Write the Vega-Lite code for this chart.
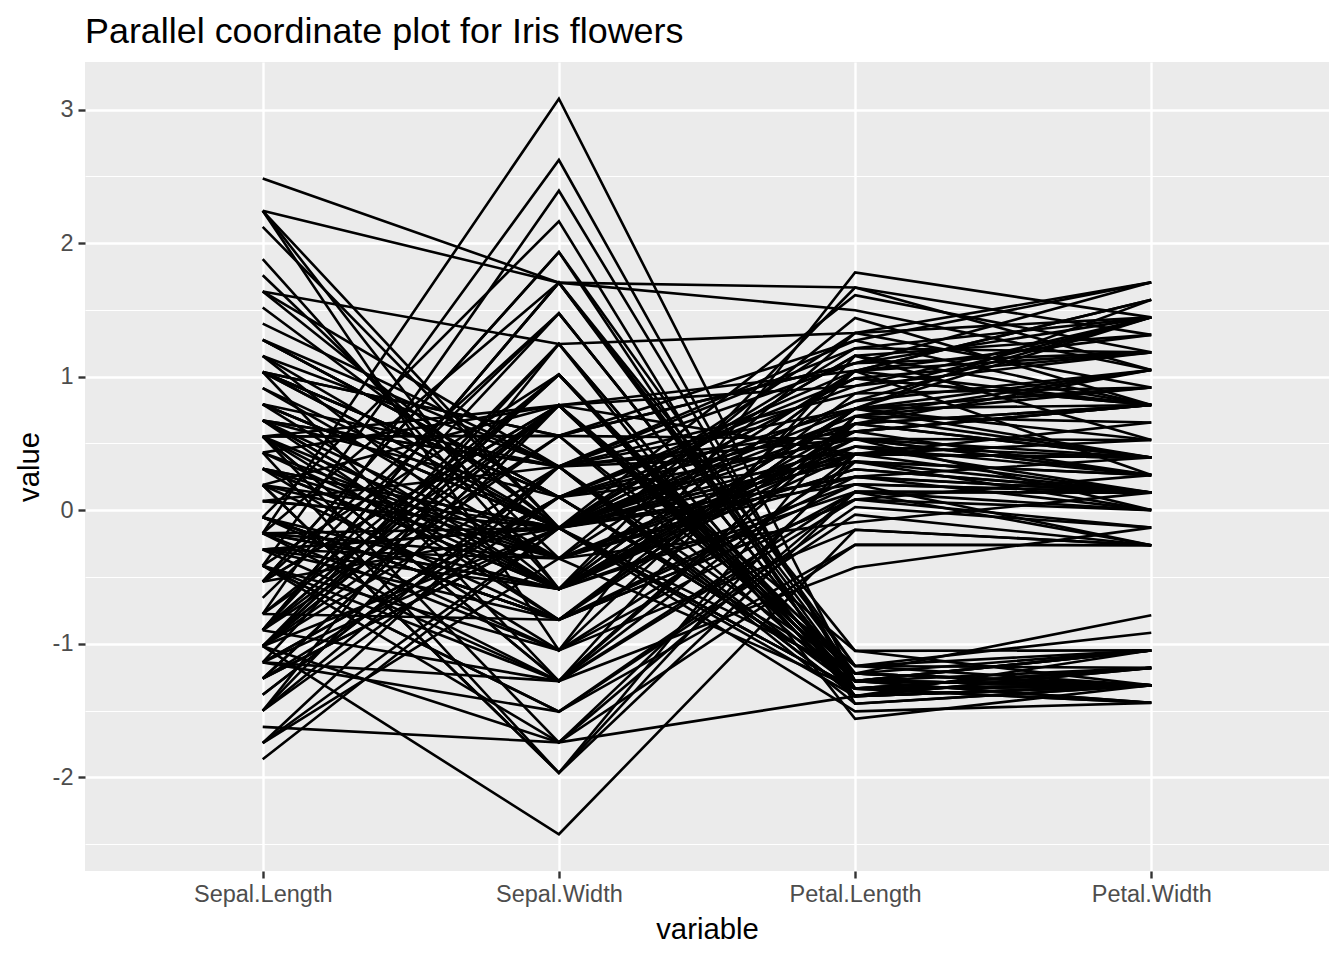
{
"$schema": "https://vega.github.io/schema/vega-lite/v6.json",
"autosize": "none",
"padding": {"left": 85, "top": 62, "right": 15, "bottom": 89},
"width": 1244,
"height": 809,
"background": "white",
"title": {"text": "Parallel coordinate plot for Iris flowers", "anchor": "start", "frame": "group", "fontSize": 35.9, "font": "Liberation Sans", "fontWeight": "normal", "color": "black", "baseline": "alphabetic", "offset": 20, "dy": 37},
"config": {"font": "Liberation Sans", "view": {"fill": "#EBEBEB", "stroke": null}},
"data": {"values": [
{"id":1,"SL":-0.898,"SW":1.016,"PL":-1.336,"PW":-1.311},
{"id":2,"SL":-1.139,"SW":-0.132,"PL":-1.336,"PW":-1.311},
{"id":3,"SL":-1.381,"SW":0.327,"PL":-1.392,"PW":-1.311},
{"id":4,"SL":-1.501,"SW":0.098,"PL":-1.279,"PW":-1.311},
{"id":5,"SL":-1.018,"SW":1.245,"PL":-1.336,"PW":-1.311},
{"id":6,"SL":-0.535,"SW":1.933,"PL":-1.166,"PW":-1.049},
{"id":7,"SL":-1.501,"SW":0.786,"PL":-1.336,"PW":-1.180},
{"id":8,"SL":-1.018,"SW":0.786,"PL":-1.279,"PW":-1.311},
{"id":9,"SL":-1.743,"SW":-0.361,"PL":-1.336,"PW":-1.311},
{"id":10,"SL":-1.139,"SW":0.098,"PL":-1.279,"PW":-1.442},
{"id":11,"SL":-0.535,"SW":1.474,"PL":-1.279,"PW":-1.311},
{"id":12,"SL":-1.260,"SW":0.786,"PL":-1.222,"PW":-1.311},
{"id":13,"SL":-1.260,"SW":-0.132,"PL":-1.336,"PW":-1.442},
{"id":14,"SL":-1.864,"SW":-0.132,"PL":-1.506,"PW":-1.442},
{"id":15,"SL":-0.052,"SW":2.163,"PL":-1.449,"PW":-1.311},
{"id":16,"SL":-0.173,"SW":3.081,"PL":-1.279,"PW":-1.049},
{"id":17,"SL":-0.535,"SW":1.933,"PL":-1.392,"PW":-1.049},
{"id":18,"SL":-0.898,"SW":1.016,"PL":-1.336,"PW":-1.180},
{"id":19,"SL":-0.173,"SW":1.704,"PL":-1.166,"PW":-1.180},
{"id":20,"SL":-0.898,"SW":1.704,"PL":-1.279,"PW":-1.180},
{"id":21,"SL":-0.535,"SW":0.786,"PL":-1.166,"PW":-1.311},
{"id":22,"SL":-0.898,"SW":1.474,"PL":-1.279,"PW":-1.049},
{"id":23,"SL":-1.501,"SW":1.245,"PL":-1.562,"PW":-1.311},
{"id":24,"SL":-0.898,"SW":0.557,"PL":-1.166,"PW":-0.917},
{"id":25,"SL":-1.260,"SW":0.786,"PL":-1.053,"PW":-1.311},
{"id":26,"SL":-1.018,"SW":-0.132,"PL":-1.222,"PW":-1.311},
{"id":27,"SL":-1.018,"SW":0.786,"PL":-1.222,"PW":-1.049},
{"id":28,"SL":-0.777,"SW":1.016,"PL":-1.279,"PW":-1.311},
{"id":29,"SL":-0.777,"SW":0.786,"PL":-1.336,"PW":-1.311},
{"id":30,"SL":-1.381,"SW":0.327,"PL":-1.222,"PW":-1.311},
{"id":31,"SL":-1.260,"SW":0.098,"PL":-1.222,"PW":-1.311},
{"id":32,"SL":-0.535,"SW":0.786,"PL":-1.279,"PW":-1.049},
{"id":33,"SL":-0.777,"SW":2.392,"PL":-1.279,"PW":-1.442},
{"id":34,"SL":-0.415,"SW":2.622,"PL":-1.336,"PW":-1.311},
{"id":35,"SL":-1.139,"SW":0.098,"PL":-1.279,"PW":-1.311},
{"id":36,"SL":-1.018,"SW":0.327,"PL":-1.449,"PW":-1.311},
{"id":37,"SL":-0.415,"SW":1.016,"PL":-1.392,"PW":-1.311},
{"id":38,"SL":-1.139,"SW":1.245,"PL":-1.336,"PW":-1.442},
{"id":39,"SL":-1.743,"SW":-0.132,"PL":-1.392,"PW":-1.311},
{"id":40,"SL":-0.898,"SW":0.786,"PL":-1.279,"PW":-1.311},
{"id":41,"SL":-1.018,"SW":1.016,"PL":-1.392,"PW":-1.180},
{"id":42,"SL":-1.622,"SW":-1.738,"PL":-1.392,"PW":-1.180},
{"id":43,"SL":-1.743,"SW":0.327,"PL":-1.392,"PW":-1.311},
{"id":44,"SL":-1.018,"SW":1.016,"PL":-1.222,"PW":-0.786},
{"id":45,"SL":-0.898,"SW":1.704,"PL":-1.053,"PW":-1.049},
{"id":46,"SL":-1.260,"SW":-0.132,"PL":-1.336,"PW":-1.180},
{"id":47,"SL":-0.898,"SW":1.704,"PL":-1.222,"PW":-1.311},
{"id":48,"SL":-1.501,"SW":0.327,"PL":-1.336,"PW":-1.311},
{"id":49,"SL":-0.656,"SW":1.474,"PL":-1.279,"PW":-1.311},
{"id":50,"SL":-1.018,"SW":0.557,"PL":-1.336,"PW":-1.311},
{"id":51,"SL":1.397,"SW":0.327,"PL":0.534,"PW":0.263},
{"id":52,"SL":0.672,"SW":0.327,"PL":0.420,"PW":0.395},
{"id":53,"SL":1.276,"SW":0.098,"PL":0.647,"PW":0.395},
{"id":54,"SL":-0.415,"SW":-1.738,"PL":0.137,"PW":0.132},
{"id":55,"SL":0.793,"SW":-0.590,"PL":0.477,"PW":0.395},
{"id":56,"SL":-0.173,"SW":-0.590,"PL":0.420,"PW":0.132},
{"id":57,"SL":0.552,"SW":0.557,"PL":0.534,"PW":0.526},
{"id":58,"SL":-1.139,"SW":-1.508,"PL":-0.259,"PW":-0.262},
{"id":59,"SL":0.914,"SW":-0.361,"PL":0.477,"PW":0.132},
{"id":60,"SL":-0.777,"SW":-0.820,"PL":0.080,"PW":0.263},
{"id":61,"SL":-1.018,"SW":-2.426,"PL":-0.146,"PW":-0.262},
{"id":62,"SL":0.068,"SW":-0.132,"PL":0.250,"PW":0.395},
{"id":63,"SL":0.189,"SW":-1.967,"PL":0.137,"PW":-0.262},
{"id":64,"SL":0.310,"SW":-0.361,"PL":0.534,"PW":0.263},
{"id":65,"SL":-0.294,"SW":-0.361,"PL":-0.090,"PW":0.132},
{"id":66,"SL":1.035,"SW":0.098,"PL":0.364,"PW":0.263},
{"id":67,"SL":-0.294,"SW":-0.132,"PL":0.420,"PW":0.395},
{"id":68,"SL":-0.052,"SW":-0.820,"PL":0.194,"PW":-0.262},
{"id":69,"SL":0.431,"SW":-1.967,"PL":0.420,"PW":0.395},
{"id":70,"SL":-0.294,"SW":-1.279,"PL":0.080,"PW":-0.130},
{"id":71,"SL":0.068,"SW":0.327,"PL":0.590,"PW":0.788},
{"id":72,"SL":0.310,"SW":-0.590,"PL":0.137,"PW":0.132},
{"id":73,"SL":0.552,"SW":-1.279,"PL":0.647,"PW":0.395},
{"id":74,"SL":0.310,"SW":-0.590,"PL":0.534,"PW":0.001},
{"id":75,"SL":0.672,"SW":-0.361,"PL":0.307,"PW":0.132},
{"id":76,"SL":0.914,"SW":-0.132,"PL":0.364,"PW":0.263},
{"id":77,"SL":1.155,"SW":-0.590,"PL":0.590,"PW":0.263},
{"id":78,"SL":1.035,"SW":-0.132,"PL":0.704,"PW":0.657},
{"id":79,"SL":0.189,"SW":-0.361,"PL":0.420,"PW":0.395},
{"id":80,"SL":-0.173,"SW":-1.049,"PL":-0.146,"PW":-0.262},
{"id":81,"SL":-0.415,"SW":-1.508,"PL":0.024,"PW":-0.130},
{"id":82,"SL":-0.415,"SW":-1.508,"PL":-0.033,"PW":-0.262},
{"id":83,"SL":-0.052,"SW":-0.820,"PL":0.080,"PW":0.001},
{"id":84,"SL":0.189,"SW":-0.820,"PL":0.760,"PW":0.526},
{"id":85,"SL":-0.535,"SW":-0.132,"PL":0.420,"PW":0.395},
{"id":86,"SL":0.189,"SW":0.786,"PL":0.420,"PW":0.526},
{"id":87,"SL":1.035,"SW":0.098,"PL":0.534,"PW":0.395},
{"id":88,"SL":0.552,"SW":-1.738,"PL":0.364,"PW":0.132},
{"id":89,"SL":-0.294,"SW":-0.132,"PL":0.194,"PW":0.132},
{"id":90,"SL":-0.415,"SW":-1.279,"PL":0.137,"PW":0.132},
{"id":91,"SL":-0.415,"SW":-1.049,"PL":0.364,"PW":0.001},
{"id":92,"SL":0.310,"SW":-0.132,"PL":0.477,"PW":0.263},
{"id":93,"SL":-0.052,"SW":-1.049,"PL":0.137,"PW":0.001},
{"id":94,"SL":-1.018,"SW":-1.738,"PL":-0.259,"PW":-0.262},
{"id":95,"SL":-0.294,"SW":-0.820,"PL":0.250,"PW":0.132},
{"id":96,"SL":-0.173,"SW":-0.132,"PL":0.250,"PW":0.001},
{"id":97,"SL":-0.173,"SW":-0.361,"PL":0.250,"PW":0.132},
{"id":98,"SL":0.431,"SW":-0.361,"PL":0.307,"PW":0.132},
{"id":99,"SL":-0.898,"SW":-1.279,"PL":-0.429,"PW":-0.130},
{"id":100,"SL":-0.173,"SW":-0.590,"PL":0.194,"PW":0.132},
{"id":101,"SL":0.552,"SW":0.557,"PL":1.270,"PW":1.706},
{"id":102,"SL":-0.052,"SW":-0.820,"PL":0.760,"PW":0.919},
{"id":103,"SL":1.518,"SW":-0.132,"PL":1.213,"PW":1.182},
{"id":104,"SL":0.552,"SW":-0.361,"PL":1.043,"PW":0.788},
{"id":105,"SL":0.793,"SW":-0.132,"PL":1.157,"PW":1.313},
{"id":106,"SL":2.121,"SW":-0.132,"PL":1.610,"PW":1.182},
{"id":107,"SL":-1.139,"SW":-1.279,"PL":0.420,"PW":0.657},
{"id":108,"SL":1.759,"SW":-0.361,"PL":1.440,"PW":0.788},
{"id":109,"SL":1.035,"SW":-1.279,"PL":1.157,"PW":0.788},
{"id":110,"SL":1.638,"SW":1.245,"PL":1.327,"PW":1.706},
{"id":111,"SL":0.793,"SW":0.327,"PL":0.760,"PW":1.050},
{"id":112,"SL":0.672,"SW":-0.820,"PL":0.874,"PW":0.919},
{"id":113,"SL":1.155,"SW":-0.132,"PL":0.987,"PW":1.182},
{"id":114,"SL":-0.173,"SW":-1.279,"PL":0.704,"PW":1.050},
{"id":115,"SL":-0.052,"SW":-0.590,"PL":0.760,"PW":1.575},
{"id":116,"SL":0.672,"SW":0.327,"PL":0.874,"PW":1.444},
{"id":117,"SL":0.793,"SW":-0.132,"PL":0.987,"PW":0.788},
{"id":118,"SL":2.242,"SW":1.704,"PL":1.667,"PW":1.313},
{"id":119,"SL":2.242,"SW":-1.049,"PL":1.780,"PW":1.444},
{"id":120,"SL":0.189,"SW":-1.967,"PL":0.704,"PW":0.395},
{"id":121,"SL":1.276,"SW":0.327,"PL":1.100,"PW":1.444},
{"id":122,"SL":-0.294,"SW":-0.590,"PL":0.647,"PW":1.050},
{"id":123,"SL":2.242,"SW":-0.590,"PL":1.667,"PW":1.050},
{"id":124,"SL":0.552,"SW":-0.820,"PL":0.647,"PW":0.788},
{"id":125,"SL":1.035,"SW":0.557,"PL":1.100,"PW":1.182},
{"id":126,"SL":1.638,"SW":0.327,"PL":1.270,"PW":0.788},
{"id":127,"SL":0.431,"SW":-0.590,"PL":0.590,"PW":0.788},
{"id":128,"SL":0.310,"SW":-0.132,"PL":0.647,"PW":0.788},
{"id":129,"SL":0.672,"SW":-0.590,"PL":1.043,"PW":1.182},
{"id":130,"SL":1.638,"SW":-0.132,"PL":1.157,"PW":0.526},
{"id":131,"SL":1.880,"SW":-0.590,"PL":1.327,"PW":0.919},
{"id":132,"SL":2.484,"SW":1.704,"PL":1.497,"PW":1.050},
{"id":133,"SL":0.672,"SW":-0.590,"PL":1.043,"PW":1.313},
{"id":134,"SL":0.552,"SW":-0.590,"PL":0.760,"PW":0.395},
{"id":135,"SL":0.310,"SW":-1.049,"PL":1.043,"PW":0.263},
{"id":136,"SL":2.242,"SW":-0.132,"PL":1.327,"PW":1.444},
{"id":137,"SL":0.552,"SW":0.786,"PL":1.043,"PW":1.575},
{"id":138,"SL":0.672,"SW":0.098,"PL":0.987,"PW":0.788},
{"id":139,"SL":0.189,"SW":-0.132,"PL":0.590,"PW":0.788},
{"id":140,"SL":1.276,"SW":0.098,"PL":0.930,"PW":1.182},
{"id":141,"SL":1.035,"SW":0.098,"PL":1.043,"PW":1.575},
{"id":142,"SL":1.276,"SW":0.098,"PL":0.760,"PW":1.444},
{"id":143,"SL":-0.052,"SW":-0.820,"PL":0.760,"PW":0.919},
{"id":144,"SL":1.155,"SW":0.327,"PL":1.213,"PW":1.444},
{"id":145,"SL":1.035,"SW":0.557,"PL":1.100,"PW":1.706},
{"id":146,"SL":1.035,"SW":-0.132,"PL":0.817,"PW":1.444},
{"id":147,"SL":0.552,"SW":-1.279,"PL":0.704,"PW":0.919},
{"id":148,"SL":0.793,"SW":-0.132,"PL":0.817,"PW":1.050},
{"id":149,"SL":0.431,"SW":0.786,"PL":0.930,"PW":1.444},
{"id":150,"SL":0.068,"SW":-0.132,"PL":0.760,"PW":0.788}
]},
"transform": [{"fold": ["SL", "SW", "PL", "PW"], "as": ["variable", "value"]}],
"mark": {"type": "line", "color": "black", "strokeWidth": 2.6},
"encoding": {
  "x": {"field": "variable", "type": "nominal", "sort": ["SL", "SW", "PL", "PW"],
        "scale": {"type": "point", "padding": 0.6},
        "axis": {"title": "variable", "labelAngle": 0,
                 "labelExpr": "datum.label == 'SL' ? 'Sepal.Length' : datum.label == 'SW' ? 'Sepal.Width' : datum.label == 'PL' ? 'Petal.Length' : 'Petal.Width'",
                 "labelFontSize": 23.5, "labelColor": "#4D4D4D", "labelPadding": 4,
                 "tickSize": 7, "tickColor": "#333333", "tickWidth": 2.4,
                 "domain": false, "grid": true, "gridColor": "white", "gridWidth": 2.4,
                 "titleFontSize": 29.3, "titleFontWeight": "normal", "titleColor": "black", "titlePadding": 10}},
  "y": {"field": "value", "type": "quantitative",
        "scale": {"domain": [-2.7011, 3.3558], "nice": false, "zero": false},
        "axis": {"title": "value", "values": [-2.5, -2, -1.5, -1, -0.5, 0, 0.5, 1, 1.5, 2, 2.5, 3],
                 "labelExpr": "datum.value % 1 === 0 ? '' + datum.value : ''",
                 "labelFontSize": 23.5, "labelColor": "#4D4D4D", "labelPadding": 5,
                 "tickSize": 7, "tickColor": "#333333", "tickWidth": 2.4,
                 "tickOpacity": {"condition": {"test": "datum.value % 1 === 0", "value": 1}, "value": 0},
                 "domain": false, "grid": true, "gridColor": "white",
                 "gridWidth": {"condition": {"test": "datum.value % 1 === 0", "value": 2.4}, "value": 1.2},
                 "titleFontSize": 29.3, "titleFontWeight": "normal", "titleColor": "black", "titlePadding": 8}},
  "detail": {"field": "id", "type": "nominal"}
}
}
